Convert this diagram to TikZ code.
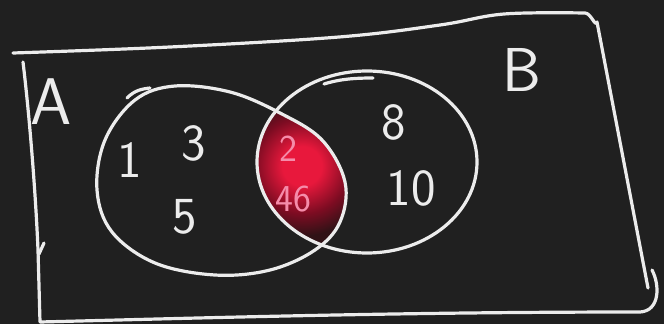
\documentclass[tikz,border=0pt]{standalone}
\usepackage{fontspec}
\definecolor{bg}{RGB}{32,32,32}
\definecolor{chalk}{RGB}{236,236,236}
\definecolor{hot}{RGB}{232,24,60}
\definecolor{deep}{RGB}{125,12,34}
\definecolor{dim}{RGB}{48,18,22}
\definecolor{pinkdigit}{RGB}{245,140,170}
\pgfdeclareradialshading{redglow}{\pgfpoint{0bp}{0bp}}{color(0bp)=(hot); color(7bp)=(hot); color(17bp)=(deep); color(25bp)=(dim); color(50bp)=(dim)}
\begin{document}
\begin{tikzpicture}[x=1pt,y=-1pt,
  stroke/.style={draw=chalk,line width=3.2pt,line cap=round,line join=round},
  lbl/.style={text=chalk,inner sep=0pt,font=\sffamily\fontsize{#1}{#1}\selectfont},
  lbl/.default=52,
  pinklbl/.style={text=pinkdigit,inner sep=0pt,font=\sffamily\fontsize{38}{38}\selectfont}]
\fill[bg] (0,0) rectangle (664,324);
\useasboundingbox (0,0) rectangle (664,324);
% red intersection
\begin{scope}
  \clip plot[smooth cycle,tension=0.6] coordinates {(97,190) (105,140) (135,100) (175,86) (230,92) (280,113) (322,140) (345,182) (340,222) (315,250) (270,270) (215,275) (155,263) (112,232)};
  \clip (367,162) ellipse [x radius=110,y radius=91];
  \fill[dim] (250,100) rectangle (360,260);
  \shade[shading=redglow] (302,166) circle (70);
\end{scope}
% frame
\draw[stroke] plot[smooth,tension=0.6] coordinates {(13,53) (170,47) (339,37) (440,25) (504,14) (585,13)}
  to[out=0,in=-105] (597,22) -- (648,288);
\draw[stroke] (23,62) .. controls (30,120) and (36,200) .. (38,250) -- (40,322)
  .. controls (200,318) and (400,312) .. (640,312) .. controls (660,311) and (660,285) .. (652,270);
\draw[stroke] (39,254) -- (44,243);
% set A
\draw[stroke] plot[smooth cycle,tension=0.6] coordinates {(97,190) (105,140) (135,100) (175,86) (230,92) (280,113) (322,140) (345,182) (340,222) (315,250) (270,270) (215,275) (155,263) (112,232)};
\draw[stroke] (127,98) .. controls (135,90) and (142,89) .. (150,88);
% set B
\draw[stroke] (367,162) ellipse [x radius=110,y radius=91];
\draw[stroke] (324,84) .. controls (340,79) and (355,78) .. (373,78);
% labels
\node[lbl=66] (la) at (51,102) {A};
\node[lbl=62] (lb) at (522,70) {B};
\node[lbl] (n1) at (130,160) {1};
\node[lbl] (n3) at (194,143) {3};
\node[lbl] (n5) at (185,217) {5};
\node[pinklbl] (n2) at (288,149) {2};
\node[pinklbl] (n46) at (293,199) {46};
\node[lbl] (n8) at (394,122) {8};
\node[lbl] (n10) at (411,188) {10};
\end{tikzpicture}
\end{document}
